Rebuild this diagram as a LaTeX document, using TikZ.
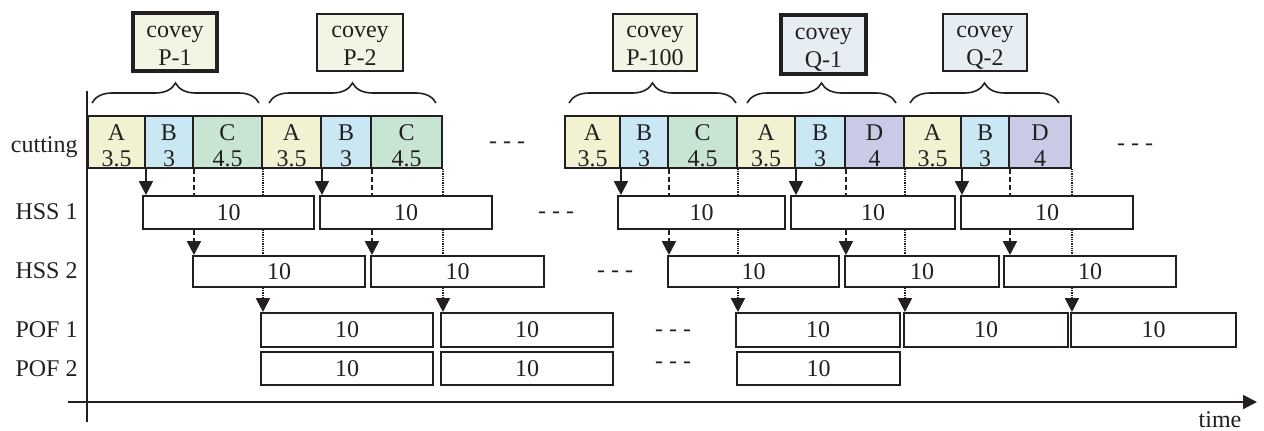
\documentclass[tikz,border=0pt]{standalone}
\usepackage{fontspec}
\setmainfont{Liberation Serif}
\usetikzlibrary{arrows.meta,decorations.pathreplacing}

\definecolor{ink}{HTML}{231F20}
\definecolor{fillA}{HTML}{F2F2D3}
\definecolor{fillB}{HTML}{C9E8F3}
\definecolor{fillC}{HTML}{C8E5D4}
\definecolor{fillD}{HTML}{C9CBE6}
\definecolor{coveyP}{HTML}{F2F5E3}
\definecolor{coveyQ}{HTML}{E6EEF4}

% two centred lines; #1 is the height reserved above the first baseline
\newcommand\twolines[3]{\rule{0pt}{#1}\smash{#2}\\\smash{#3}}

% a framed box given by its corners: name, style, x1, y1, x2, y2, text
\newcommand\boxat[7]{%
  \node[frame,#2,minimum width={(#5-#3)*0.5pt},minimum height={(#6-#4)*0.5pt}]
    (#1) at ({(#3+#5)/2},{(#4+#6)/2}) {#7};}

\tikzset{
  every node/.style={font=\fontsize{12}{14}\selectfont, text=ink},
  frame/.style={draw=ink, line width=0.95pt, inner sep=0pt, align=center},
  heavy/.style={line width=2pt},
  cut/.style={font=\fontsize{12}{13}\selectfont},
  cutA/.style={cut, fill=fillA},
  cutB/.style={cut, fill=fillB},
  cutC/.style={cut, fill=fillC},
  cutD/.style={cut, fill=fillD},
  job/.style={fill=white},
  rowlabel/.style={anchor=east, inner sep=0pt},
  gap/.style={anchor=base, inner sep=0pt},
  tip/.style={-{Triangle[length=7pt,width=7pt]}},
  linkS/.style={draw=ink, line width=0.95pt},
  linkD/.style={draw=ink, line width=0.95pt, dash pattern=on 2.5pt off 1.5pt},
  linkT/.style={draw=ink, line width=0.95pt, dash pattern=on 0.5pt off 0.4pt},
  axis/.style={draw=ink, line width=0.95pt},
  brc/.style={draw=ink, line width=0.8pt, decorate, decoration={brace, amplitude=10pt}},
}

\begin{document}
\begin{tikzpicture}[x=0.5pt, y=-0.5pt]
\useasboundingbox (0,0) rectangle (1264,430);

% axes
\coordinate (yTop) at (87,91);
\coordinate (yBot) at (87,422);
\coordinate (xL) at (68,402);
\coordinate (xR) at (1257,402);
\draw[axis] (yTop) -- (yBot);
\draw[axis, -{Triangle[length=7pt,width=7pt]}] (xL) -- (xR);
\node[anchor=base, inner sep=0pt] (timelbl) at (1220,427) {time};

% row labels
\node[rowlabel, anchor=base east] (lcut) at (78,152) {cutting};
\node[rowlabel] (lhss1) at (78,212) {HSS 1};
\node[rowlabel] (lhss2) at (78,271) {HSS 2};
\node[rowlabel] (lpof1) at (78,330) {POF 1};
\node[rowlabel] (lpof2) at (78,369) {POF 2};

% coveys
\boxat{cvP1}{fill=coveyP,heavy}{133}{13}{217}{71}{\twolines{9pt}{covey}{P-1}}
\boxat{cvP2}{fill=coveyP}{317}{14}{403}{71}{\twolines{9pt}{covey}{P-2}}
\boxat{cvP100}{fill=coveyP}{613}{14}{697}{71}{\twolines{9pt}{covey}{P-100}}
\boxat{cvQ1}{fill=coveyQ,heavy}{781}{15}{866}{74}{\twolines{9pt}{covey}{Q-1}}
\boxat{cvQ2}{fill=coveyQ}{943}{14}{1027}{71}{\twolines{9pt}{covey}{Q-2}}

% braces over each covey's cuts
\draw[brc] (92,103) -- (259,103);
\draw[brc] (269,103) -- (436,103);
\draw[brc] (569,103) -- (736,103);
\draw[brc] (747,103) -- (896,103);
\draw[brc] (910,103) -- (1059,103);

% cutting sequence
\boxat{cut1a}{cutA}{88}{116}{145}{168}{\twolines{11.6pt}{A}{3.5}}
\boxat{cut1b}{cutB}{145}{116}{193}{168}{\twolines{11.6pt}{B}{3}}
\boxat{cut1c}{cutC}{193}{116}{262}{168}{\twolines{11.6pt}{C}{4.5}}
\boxat{cut2a}{cutA}{262}{116}{321}{168}{\twolines{11.6pt}{A}{3.5}}
\boxat{cut2b}{cutB}{321}{116}{371}{168}{\twolines{11.6pt}{B}{3}}
\boxat{cut2c}{cutC}{371}{116}{442}{168}{\twolines{11.6pt}{C}{4.5}}
\boxat{cut3a}{cutA}{565}{116}{620}{168}{\twolines{11.6pt}{A}{3.5}}
\boxat{cut3b}{cutB}{620}{116}{668}{168}{\twolines{11.6pt}{B}{3}}
\boxat{cut3c}{cutC}{668}{116}{737}{168}{\twolines{11.6pt}{C}{4.5}}
\boxat{cut4a}{cutA}{737}{116}{795}{168}{\twolines{11.6pt}{A}{3.5}}
\boxat{cut4b}{cutB}{795}{116}{845}{168}{\twolines{11.6pt}{B}{3}}
\boxat{cut4c}{cutD}{845}{116}{904}{168}{\twolines{11.6pt}{D}{4}}
\boxat{cut5a}{cutA}{904}{116}{961}{168}{\twolines{11.6pt}{A}{3.5}}
\boxat{cut5b}{cutB}{961}{116}{1009}{168}{\twolines{11.6pt}{B}{3}}
\boxat{cut5c}{cutD}{1009}{116}{1071}{168}{\twolines{11.6pt}{D}{4}}

% HSS 1
\boxat{hssA1}{job}{143}{196}{314}{229}{10}
\boxat{hssA2}{job}{320}{196}{492}{229}{10}
\boxat{hssA3}{job}{618}{196}{785}{229}{10}
\boxat{hssA4}{job}{791}{196}{955}{229}{10}
\boxat{hssA5}{job}{961}{196}{1133}{229}{10}
% HSS 2
\boxat{hssB1}{job}{193}{256}{365}{287}{10}
\boxat{hssB2}{job}{371}{256}{544}{287}{10}
\boxat{hssB3}{job}{668}{256}{839}{287}{10}
\boxat{hssB4}{job}{845}{256}{999}{287}{10}
\boxat{hssB5}{job}{1004}{256}{1176}{287}{10}
% POF 1
\boxat{pofA1}{job}{261}{313}{433}{347}{10}
\boxat{pofA2}{job}{441}{313}{613}{347}{10}
\boxat{pofA3}{job}{736}{313}{900}{347}{10}
\boxat{pofA4}{job}{904}{313}{1068}{347}{10}
\boxat{pofA5}{job}{1071}{313}{1236}{347}{10}
% POF 2
\boxat{pofB1}{job}{261}{352}{433}{385}{10}
\boxat{pofB2}{job}{441}{352}{613}{385}{10}
\boxat{pofB3}{job}{737}{352}{900}{385}{10}

% omitted stretches
\node[gap] (gcut) at (507,148) {- - -};
\node[gap] (gcutR) at (1135,150) {- - -};
\node[gap] (ghss1) at (556,218) {- - -};
\node[gap] (ghss2) at (615,277) {- - -};
\node[gap] (gpof1) at (673,336) {- - -};
\node[gap] (gpof2) at (673,368) {- - -};

% hand-offs from cutting through the stations
\foreach \g in {1,...,5}{
  \draw[linkS, tip] (cut\g a.south east) -- (cut\g a.south east |- hssA\g.north);
  \draw[linkD] (cut\g b.south east) -- (cut\g b.south east |- hssA\g.north);
  \draw[linkD, tip] (cut\g b.south east |- hssA\g.south) -- (cut\g b.south east |- hssB\g.north);
  \draw[linkT] (cut\g c.south east) -- (cut\g c.south east |- hssA\g.north);
  \draw[linkT] (cut\g c.south east |- hssA\g.south) -- (cut\g c.south east |- hssB\g.north);
  \draw[linkT, tip] (cut\g c.south east |- hssB\g.south) -- (cut\g c.south east |- pofA\g.north);
}
\end{tikzpicture}
\end{document}
